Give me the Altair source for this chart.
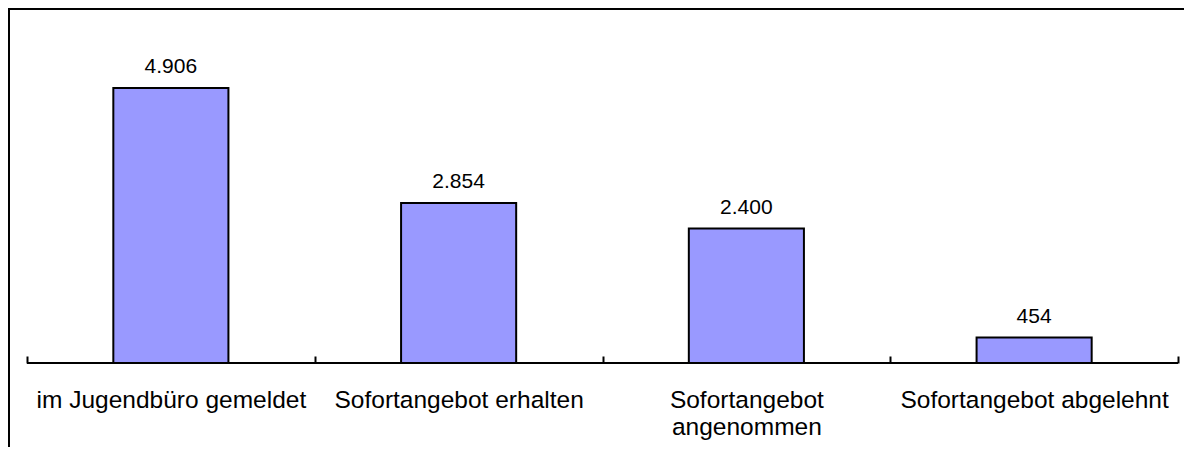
import altair as alt
import pandas as pd

categories = [
    "im Jugendbüro gemeldet",
    "Sofortangebot erhalten",
    "Sofortangebot angenommen",
    "Sofortangebot abgelehnt",
]
values = [4906, 2854, 2400, 454]

df = pd.DataFrame({"kategorie": categories, "wert": values})

FONT = "Liberation Sans"

x_enc = alt.X(
    "kategorie:N",
    sort=categories,
    scale=alt.Scale(paddingInner=0, paddingOuter=0),
    axis=alt.Axis(
        title=None,
        offset=-7,
        tickBand="extent",
        tickSize=7,
        tickWidth=2,
        tickColor="black",
        domain=False,
        labelAngle=0,
        labelFont=FONT,
        labelFontSize=24.5,
        labelColor="black",
        labelPadding=25,
        labelLimit=0,
        labelOverlap=False,
        labelLineHeight=27,
        labelExpr="length(datum.label) > 23 ? split(datum.label, ' ') : datum.label",
    ),
)
y_enc = alt.Y("wert:Q", scale=alt.Scale(domain=[0, 5800], nice=False), axis=None)

bars = alt.Chart(df).mark_bar(
    fill="#9999FF", stroke="black", strokeWidth=2, width=alt.RelativeBandSize(0.4)
).encode(x=x_enc, y=y_enc)

labels = alt.Chart(df).transform_calculate(
    wert_label="replace(format(datum.wert, ','), ',', '.')"
).mark_text(
    baseline="alphabetic", dy=-15, fontSize=21, font=FONT, color="black"
).encode(x=alt.X("kategorie:N", sort=categories), y=alt.Y("wert:Q"), text="wert_label:N")

baseline = alt.Chart(df).mark_rule(color="black", strokeWidth=2).encode(y=alt.datum(0))

frame_left = alt.Chart(df).mark_rule(color="black", strokeWidth=2.5).encode(
    x=alt.value(-18.5), y=alt.value(-29.5), y2=alt.value(430)
)
frame_top = alt.Chart(df).mark_rule(color="black", strokeWidth=2.5).encode(
    x=alt.value(-18.5), x2=alt.value(1160), y=alt.value(-29.5)
)

chart = alt.layer(bars, baseline, labels, frame_left, frame_top).properties(
    width=1151,
    height=325,
    autosize=alt.AutoSizeParams(type="none"),
    padding={"left": 19, "top": 30, "right": 6, "bottom": 84},
).configure_view(strokeWidth=0)

chart.save("out.html", embed_options={"renderer": "svg", "actions": False})
